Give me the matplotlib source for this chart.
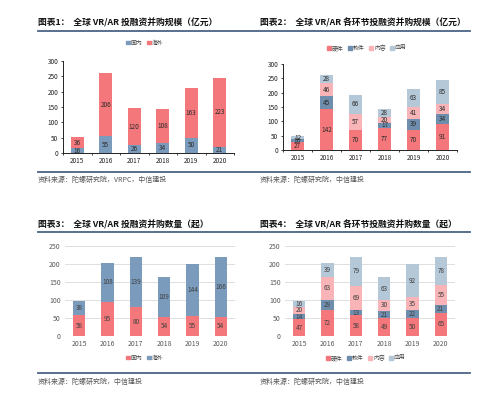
import matplotlib
matplotlib.use("Agg")
import matplotlib.pyplot as plt
import numpy as np

plt.rcParams['font.family'] = ['Noto Sans CJK SC', 'DejaVu Sans']

years = ['2015', '2016', '2017', '2018', '2019', '2020']

# Chart 1: investment scale (亿元)
c1_domestic = [16, 55, 26, 34, 50, 21]
c1_overseas = [36, 206, 120, 108, 163, 223]
# Chart 2: by segment (亿元)
c2_hardware = [27, 142, 70, 77, 70, 91]
c2_software = [10, 45, 0, 17, 39, 34]
c2_content = [0, 46, 57, 20, 41, 34]
c2_application = [12, 28, 66, 28, 63, 85]
# Chart 3: number of deals
c3_domestic = [58, 95, 80, 54, 55, 54]
c3_overseas = [38, 108, 139, 109, 144, 166]
# Chart 4: by segment, number of deals
c4_hardware = [47, 72, 58, 49, 50, 65]
c4_software = [14, 29, 13, 21, 22, 21]
c4_content = [20, 63, 69, 30, 35, 55]
c4_application = [16, 39, 79, 63, 92, 78]

titles = ['图表1：  全球 VR/AR 投融资并购规模（亿元）',
          '图表2：  全球 VR/AR 各环节投融资并购规模（亿元）',
          '图表3：  全球 VR/AR 投融资并购数量（起）',
          '图表4：  全球 VR/AR 各环节投融资并购数量（起）']
sources = ['资料来源：陀螺研究院，VRPC，中信建投',
           '资料来源：陀螺研究院，中信建投',
           '资料来源：陀螺研究院，中信建投',
           '资料来源：陀螺研究院，中信建投']

RED = '#F4787B'
BLUE = '#7B9BBD'
SOFT = '#6F8EAE'
PINK = '#F8B4B6'
LBLUE = '#B5C8D8'
LINE = '#4A6482'

W, H = 499, 398
fig = plt.figure(figsize=(W / 100, H / 100), dpi=100)
fig.patch.set_facecolor('white')


def fx(x):
    return x / W


def fy(y):
    return 1 - y / H


def add_ax(left, right, y0, ytop):
    return fig.add_axes([fx(left), fy(y0), (right - left) / W, (y0 - ytop) / H])


def hline(y, x0, x1):
    fig.add_artist(plt.Line2D([fx(x0), fx(x1)], [fy(y), fy(y)], color=LINE, lw=1.3,
                              transform=fig.transFigure))


# frame lines and texts
for (tx, ty), t in zip([(38, 23), (260, 23), (38, 225), (260, 225)], titles):
    fig.text(fx(tx), fy(ty), t, fontsize=6.3, fontweight='bold', va='center', ha='left', color='#111111')
for (sx, sy), s in zip([(38, 180), (260, 180), (38, 382), (260, 382)], sources):
    fig.text(fx(sx), fy(sy), s, fontsize=5, va='center', ha='left', color='#555555', style='italic')
for y in (31, 172, 232, 373):
    hline(y, 38, 470)

x = np.arange(len(years))
bw = 0.44


def stack(ax, series, colors, labcol):
    bottom = np.zeros(len(years))
    for vals, col in zip(series, colors):
        vals = np.array(vals, dtype=float)
        ax.bar(x, vals, bw, bottom=bottom, color=col, edgecolor='none', zorder=3)
        for xi, v, b in zip(x, vals, bottom):
            if v > 0:
                ax.text(xi, b + v / 2, f'{int(v)}', ha='center', va='center', fontsize=4.6,
                        color=labcol, zorder=4)
        bottom += vals


def excel_style(ax, ymax):
    ax.set_xlim(-0.5, 5.5)
    ax.set_ylim(0, ymax)
    ax.set_yticks(np.arange(0, ymax + 1, 50))
    ax.set_xticks(x)
    ax.set_xticklabels(years)
    ax.set_xticks(np.arange(-0.5, 6, 1), minor=True)
    for s in ('top', 'right'):
        ax.spines[s].set_visible(False)
    for s in ('left', 'bottom'):
        ax.spines[s].set_color('#222222')
        ax.spines[s].set_linewidth(0.7)
    ax.tick_params(axis='x', which='major', length=0, labelsize=4.6, pad=3, colors='#222222')
    ax.tick_params(axis='x', which='minor', length=1.5, width=0.6, direction='out', color='#222222')
    ax.tick_params(axis='y', length=1.5, width=0.6, labelsize=4.6, pad=2, colors='#222222')


def grid_style(ax, ymax):
    ax.set_xlim(-0.5, 5.5)
    ax.set_ylim(0, ymax)
    ax.set_yticks(np.arange(0, ymax + 1, 50))
    ax.set_xticks(x)
    ax.set_xticklabels(years)
    for s in ax.spines.values():
        s.set_visible(False)
    ax.grid(axis='y', color='#D9D9D9', lw=0.6, zorder=0)
    ax.tick_params(axis='both', length=0, labelsize=5, colors='#595959', pad=3)


def legend(ax, labels, colors, cx, cy):
    handles = [plt.Rectangle((0, 0), 1, 1, color=c) for c in colors]
    ax.legend(handles, labels, loc='center', bbox_to_anchor=(fx(cx), fy(cy)),
              bbox_transform=fig.transFigure, ncol=len(labels), frameon=False,
              fontsize=4.2, handlelength=0.6, handleheight=0.6, handletextpad=0.2,
              columnspacing=0.8, labelcolor='#444444')


# Chart 1
ax1 = add_ax(63, 234, 153, 61)
stack(ax1, [c1_domestic, c1_overseas], [BLUE, RED], '#2b2b2b')
excel_style(ax1, 300)
legend(ax1, ['国内', '海外'], [BLUE, RED], 145, 43)

# Chart 2
ax2 = add_ax(283, 457, 150, 64)
stack(ax2, [c2_hardware, c2_software, c2_content, c2_application], [RED, SOFT, PINK, LBLUE], '#2b2b2b')
excel_style(ax2, 300)
legend(ax2, ['硬件', '软件', '内容', '应用'], [RED, SOFT, PINK, LBLUE], 367, 48)

# Chart 3
ax3 = add_ax(65, 235, 336, 246)
stack(ax3, [c3_domestic, c3_overseas], [RED, BLUE], '#404040')
grid_style(ax3, 250)
legend(ax3, ['国内', '海外'], [RED, BLUE], 145, 358)

# Chart 4
ax4 = add_ax(285, 455, 336, 246)
stack(ax4, [c4_hardware, c4_software, c4_content, c4_application], [RED, SOFT, PINK, LBLUE], '#404040')
grid_style(ax4, 250)
legend(ax4, ['硬件', '软件', '内容', '应用'], [RED, SOFT, PINK, LBLUE], 366, 358)

fig.savefig('out.png', dpi=100, facecolor='white')
